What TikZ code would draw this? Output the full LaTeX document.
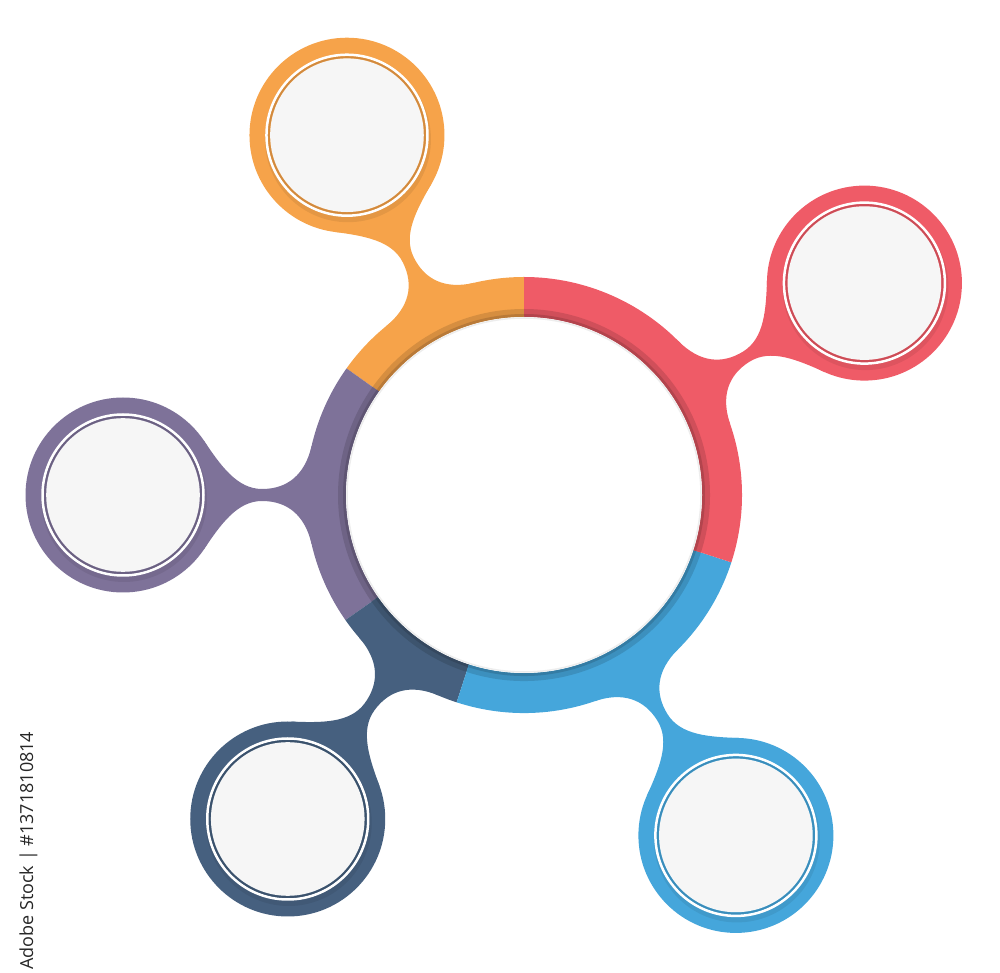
\documentclass[tikz,border=0pt]{standalone}
\usepackage{fontspec}
\newfontfamily\stockfont{Open Sans}
\usetikzlibrary{calc}
\pgfdeclarelayer{back}
\pgfsetlayers{back,main}
\definecolor{segorange}{HTML}{F6A34A}
\definecolor{segred}{HTML}{EF5B67}
\definecolor{segblue}{HTML}{45A6DB}
\definecolor{segnavy}{HTML}{46607F}
\definecolor{segpurple}{HTML}{7E7299}
\definecolor{discgray}{HTML}{F6F6F6}

\begin{document}
\begin{tikzpicture}[x=1pt, y=1pt,
  sat/.style={circle, fill=#1, minimum size=195pt, inner sep=0pt},
  hubdisc/.style={circle, fill=white, minimum size=356pt, inner sep=0pt}]
\useasboundingbox (0,0) rectangle (1000,972);
\node[hubdisc] (hub) at (524,477) {};

% the ring, one arc piece per colour
\foreach \a/\b/\col in {90/144.5/segorange, 144.5/215/segpurple, 215/252/segnavy, 252/342/segblue, 342/450/segred}{
  \fill[\col] ($(hub)+(\a:218pt)$) arc[start angle=\a, end angle=\b, radius=218pt]
    -- ($(hub)+(\b:178pt)$) arc[start angle=\b, end angle=\a, radius=178pt] -- cycle;
  \fill[\col!87!black] ($(hub)+(\a:186pt)$) arc[start angle=\a, end angle=\b, radius=186pt]
    -- ($(hub)+(\b:178pt)$) arc[start angle=\b, end angle=\a, radius=178pt] -- cycle;
  \fill[\col!75!black] ($(hub)+(\a:181pt)$) arc[start angle=\a, end angle=\b, radius=181pt]
    -- ($(hub)+(\b:178pt)$) arc[start angle=\b, end angle=\a, radius=178pt] -- cycle;
}
\fill[white] (hub.center) circle (178pt);
\draw[black!7, line width=1.5pt] (hub.center) circle (177pt);

% satellites and their necks
\foreach \ang/\col/\nm in {116.2/segorange/satA, 31.9/segred/satB, 180/segpurple/satC, 233.9/segnavy/satD, 301.9/segblue/satE}{
  \node[sat=\col] (\nm) at ($(hub)+(\ang:401pt)$) {};
  \fill[black, opacity=.07] ($(\nm.center)+(1,-4)$) circle (83pt);
  \draw[white, line width=2.5pt] (\nm.center) circle (80.5pt);
  \draw[\col!85!black, line width=1.5pt] (\nm.center) circle (78pt);
  \fill[discgray] (\nm.center) circle (76.8pt);
  \begin{pgfonlayer}{back}
    \begin{scope}[shift={(hub.center)}, rotate=\ang]
      \fill[\col] (hub.center) -- (212.4,49) .. controls (219.2,19.8) and (237,6) .. (262,6)
        .. controls (287,6) and (303.4,29.6) .. (320.2,54.5) -- (\nm.center)
        -- (320.2,-54.5) .. controls (303.4,-29.6) and (287,-6) .. (262,-6)
        .. controls (237,-6) and (219.2,-19.8) .. (212.4,-49) -- cycle;
    \end{scope}
  \end{pgfonlayer}
}

\node[rotate=90, anchor=base west, inner sep=0pt, text=black!85,
  font=\stockfont\fontsize{18}{20}\selectfont] (stock) at (33,2) {Adobe Stock | \#1371810814};
\end{tikzpicture}
\end{document}
